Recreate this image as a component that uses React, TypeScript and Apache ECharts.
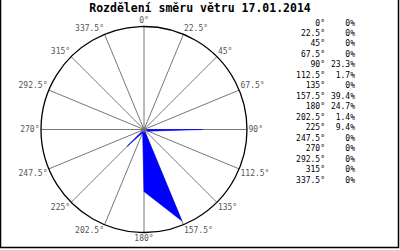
import React, { useEffect, useRef } from "react";
import * as echarts from "echarts";

const titleText = "Rozdělení směru větru 17.01.2014";
const directions = [0, 22.5, 45, 67.5, 90, 112.5, 135, 157.5, 180, 202.5, 225, 247.5, 270, 292.5, 315, 337.5];
const percents = [0, 0, 0, 0, 23.3, 1.7, 0, 39.4, 24.7, 1.4, 9.4, 0, 0, 0, 0, 0];
const radiusMax = 41;

const MONO = "'DejaVu Sans Mono', 'Liberation Mono', monospace";

export default function App() {
  const ref = useRef<HTMLDivElement>(null);
  useEffect(() => {
    if (!ref.current) return;
    const chart = echarts.init(ref.current, null, { renderer: "svg" });
    const cx = 144;
    const cy = 129.5;
    const tableTexts: any[] = [];
    directions.forEach((d, i) => {
      const y = 23 + i * 10.47;
      tableTexts.push({
        type: "text",
        x: 325,
        y,
        style: { text: d + "°", font: `8px ${MONO}`, fill: "#000", align: "right", verticalAlign: "middle" },
      });
      tableTexts.push({
        type: "text",
        x: 355,
        y,
        style: { text: percents[i] + "%", font: `8px ${MONO}`, fill: "#000", align: "right", verticalAlign: "middle" },
      });
    });
    chart.setOption({
      animation: false,
      backgroundColor: "#fff",
      title: {
        text: titleText,
        left: "center",
        top: 1,
        padding: 0,
        textStyle: { fontFamily: MONO, fontWeight: "bold", fontSize: 11.5, lineHeight: 13, color: "#000" },
      },
      polar: { center: [cx, cy], radius: 103 },
      angleAxis: {
        type: "value",
        min: 0,
        max: 360,
        interval: 22.5,
        startAngle: 90,
        clockwise: true,
        axisLine: { show: true, lineStyle: { color: "#000", width: 1.3 } },
        axisTick: { show: false },
        splitLine: { show: true, lineStyle: { color: "#777", width: 1 } },
        axisLabel: {
          show: true,
          margin: 1.5,
          color: "#555",
          fontFamily: MONO,
          fontSize: 8,
          lineHeight: 9,
          formatter: (v: number) => (v >= 360 ? "" : v + "°"),
        },
      },
      radiusAxis: {
        type: "value",
        min: 0,
        max: radiusMax,
        axisLine: { show: false },
        axisTick: { show: false },
        axisLabel: { show: false },
        splitLine: { show: false },
      },
      series: [
        {
          type: "custom",
          coordinateSystem: "polar",
          data: percents.map((p, i) => [p, directions[i]]),
          renderItem: (params: any, api: any) => {
            if (params.dataIndex !== 0) return null;
            const pts = percents.map((p, i) => api.coord([p, directions[i]]));
            return {
              type: "polygon",
              shape: { points: pts },
              style: { fill: "#0000ff", stroke: "#0000ff", lineWidth: 0.6 },
            };
          },
          z: 3,
        },
        {
          type: "scatter",
          coordinateSystem: "polar",
          data: [[0, 0]],
          symbolSize: 6,
          itemStyle: { color: "#777" },
          z: 4,
        },
      ],
      graphic: [
        {
          type: "polyline",
          shape: { points: [[0.5, 0], [0.5, 247.5], [398.5, 247.5], [398.5, 0]] },
          style: { stroke: "#000", lineWidth: 1.5, fill: null },
        },
        ...tableTexts,
      ],
    });
    return () => chart.dispose();
  }, []);
  return <div ref={ref} style={{ position: "fixed", left: 0, top: 0, width: 400, height: 250 }} />;
}
